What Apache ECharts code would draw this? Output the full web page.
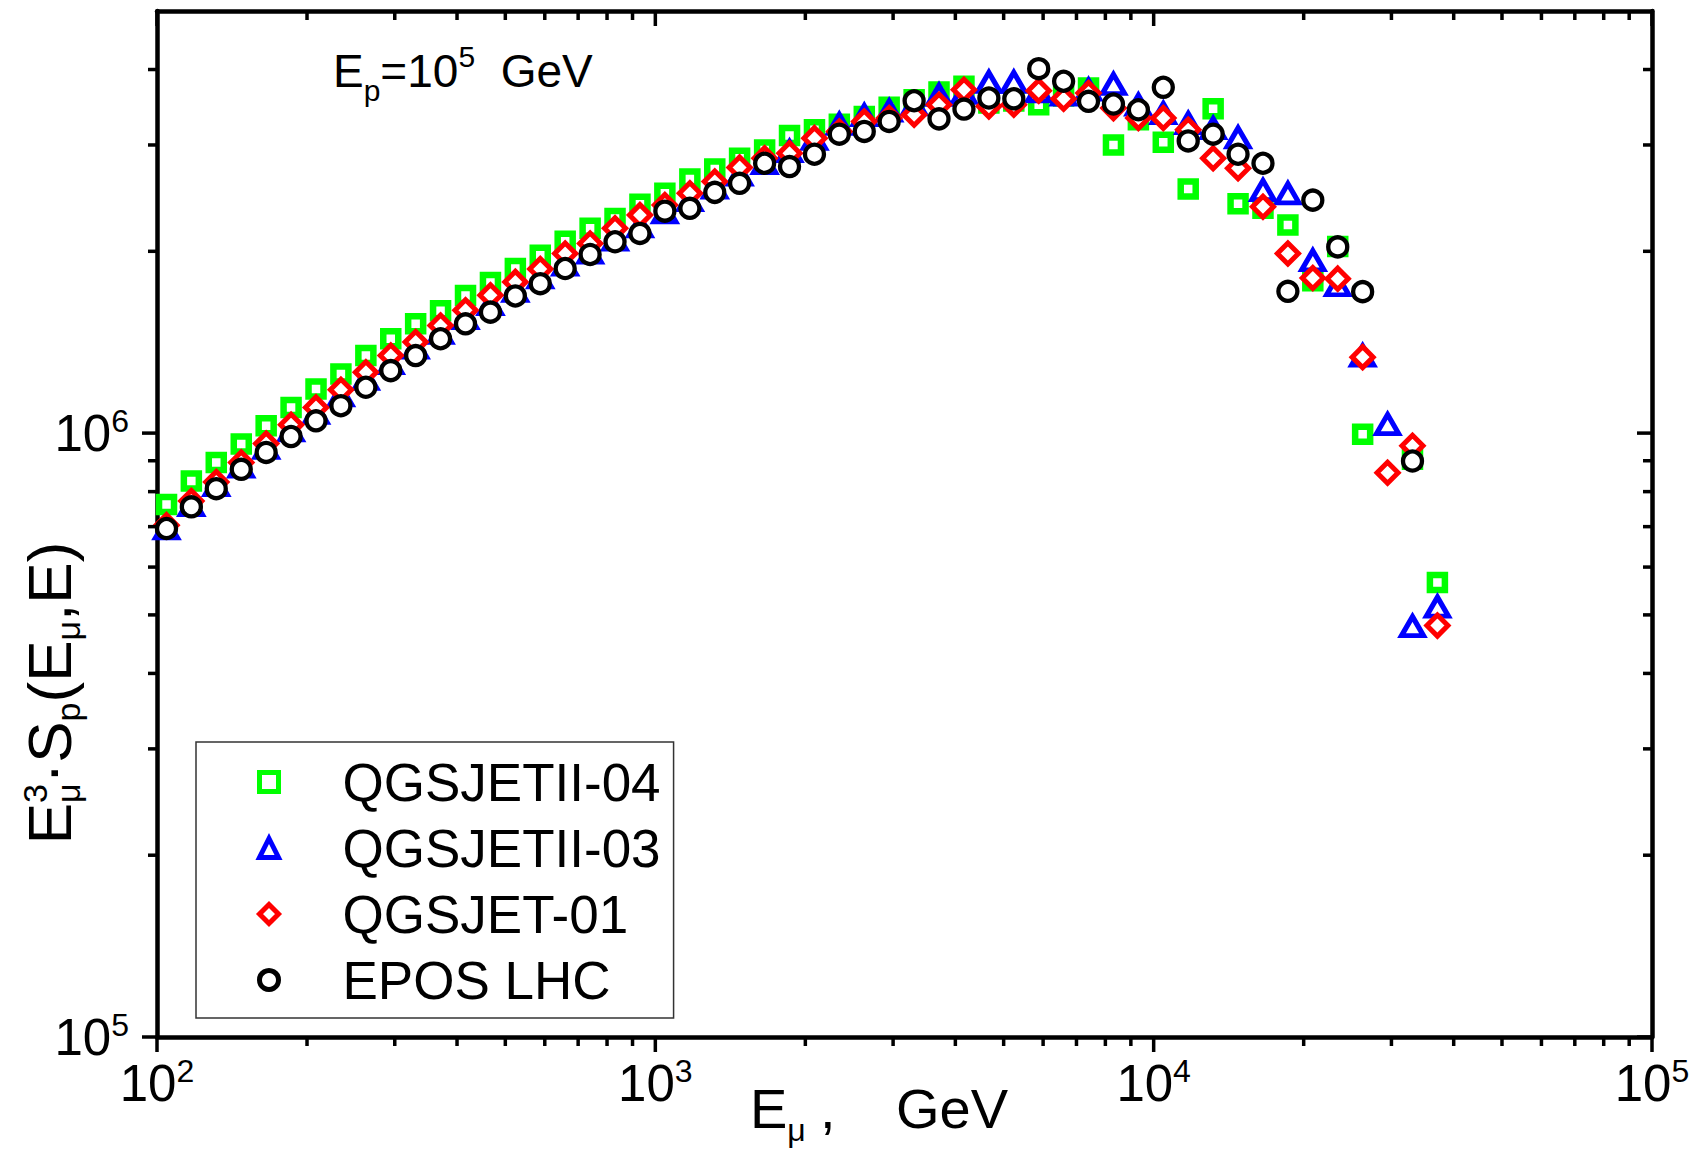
<!DOCTYPE html>
<html>
<head>
<meta charset="utf-8">
<title>Muon spectrum, Ep = 1e5 GeV</title>
<script src="https://cdn.jsdelivr.net/npm/echarts@6.0.0/dist/echarts.min.js"></script>
<style>
  html, body { margin: 0; padding: 0; background: #fff; }
  #chart { width: 1696px; height: 1155px; }
</style>
</head>
<body>
<div id="chart"></div>
<script>
// muon energy of each bin, GeV
const energies = [104.5, 117.2, 131.5, 147.6, 165.6, 185.8, 208.5, 233.9, 262.5, 294.5,
  330.4, 370.7, 416.0, 466.8, 523.7, 587.6, 659.3, 739.8, 830.1, 931.4,
  1045, 1173, 1316, 1476, 1657, 1859, 2086, 2340, 2626, 2946,
  3306, 3709, 4162, 4670, 5240, 5879, 6596, 7401, 8305, 9318,
  10455, 11731, 13163, 14769, 16571, 18593, 20862, 23408, 26264, 29469,
  33065, 37100];

// E^3 * S_p(E_mu, E) for each hadronic model (null = no point in the plot)
const qgsjet2_04 = [762000, 833000, 894000, 959000, 1028000, 1103000, 1183000, 1253000, 1344000, 1433000,
  1517000, 1595000, 1690000, 1775000, 1873000, 1970000, 2078000, 2183000, 2267000, 2392000,
  2495000, 2635000, 2737000, 2852000, 2944000, 3110000, 3178000, 3248000, 3345000, 3463000,
  3565000, 3671000, 3752000, 3520000, 3547000, 3497000, 3615000, 3728000, 3001000, 3303000,
  3032000, 2536000, 3443000, 2397000, 2356000, 2211000, 1788000, 2037000, 996000, null,
  905000, 566000];
const qgsjet2_03 = [695000, 760000, 820000, 880000, 945000, 1010000, 1080000, 1155000, 1230000, 1305000,
  1385000, 1465000, 1550000, 1635000, 1720000, 1810000, 1900000, 1990000, 2090000, 2200000,
  2320000, 2430000, 2550000, 2680000, 2800000, 2930000, 3070000, 3250000, 3360000, 3420000,
  3500000, 3630000, 3657000, 3814000, 3814000, 3681000, 3634000, 3704000, 3785000, 3497000,
  3388000, 3261000, 3199000, 3087000, 2526000, 2495000, 1933000, 1757000, 1344000, 1035000,
  479000, 516000];
const qgsjet01 = [704000, 772000, 830000, 894000, 961000, 1032000, 1103000, 1180000, 1261000, 1344000,
  1415000, 1507000, 1597000, 1691000, 1780000, 1870000, 1983000, 2061000, 2183000, 2296000,
  2386000, 2495000, 2609000, 2753000, 2852000, 2907000, 3079000, 3159000, 3282000, 3324000,
  3366000, 3497000, 3704000, 3476000, 3497000, 3690000, 3578000, 3657000, 3453000, 3324000,
  3324000, 3178000, 2852000, 2745000, 2371000, 1983000, 1807000, 1802000, 1336000, 860000,
  953000, 480000];
const eposLhc = [695000, 755000, 809000, 871000, 929000, 987000, 1048000, 1110000, 1191000, 1269000,
  1344000, 1433000, 1517000, 1586000, 1687000, 1768000, 1873000, 1976000, 2074000, 2141000,
  2331000, 2356000, 2504000, 2592000, 2798000, 2763000, 2896000, 3126000, 3159000, 3282000,
  3551000, 3314000, 3440000, 3588000, 3578000, 4013000, 3825000, 3543000, 3507000, 3431000,
  3738000, 3047000, 3126000, 2896000, 2798000, 1717000, 2431000, 2034000, 1715000, null,
  899000, null];

const seriesNames = ['QGSJETII-04', 'QGSJETII-03', 'QGSJET-01', 'EPOS LHC'];

// tick marks of the log axes
const xMajorTicks = [100, 1000, 10000, 100000];
const xMinorTicks = [200, 300, 400, 500, 600, 700, 800, 900,
  2000, 3000, 4000, 5000, 6000, 7000, 8000, 9000,
  20000, 30000, 40000, 50000, 60000, 70000, 80000, 90000];
const yMajorTicks = [100000, 1000000];
const yMinorTicks = [200000, 300000, 400000, 500000, 600000, 700000, 800000, 900000,
  2000000, 3000000, 4000000];

const FONT = '"Liberation Sans", Arial, sans-serif';
const X_MIN = 100, X_MAX = 100000, Y_MIN = 100000, Y_MAX = 5000000;

const chart = echarts.init(document.getElementById('chart'), null, { renderer: 'svg' });

const toPoints = ys => energies.map((e, i) => [e, ys[i]]).filter(p => p[1] != null);

// label like 10^3 with the exponent raised
const powerLabel = v => {
  const e = Math.round(Math.log10(v));
  if (Math.abs(Math.pow(10, e) - v) / v > 1e-6) return '';
  return '{b|10}{s|' + e + '}';
};
const labelRich = {
  b: { fontSize: 51, fontFamily: FONT, color: '#000', lineHeight: 56 },
  s: { fontSize: 32, fontFamily: FONT, color: '#000', lineHeight: 30, verticalAlign: 'top' }
};

// ticks drawn on both sides of the frame (outer ones on bottom/left, inner on top/right)
function tickSeries(dim, values, len) {
  return {
    type: 'custom',
    coordinateSystem: 'cartesian2d',
    silent: true,
    z: 5,
    data: values.map(v => dim === 'x' ? [v, Y_MIN] : [X_MIN, v]),
    renderItem: (params, api) => {
      const cs = params.coordSys;
      const p = api.coord([api.value(0), api.value(1)]);
      const st = { stroke: '#000', lineWidth: 3.5 };
      if (dim === 'x') {
        const yb = cs.y + cs.height, yt = cs.y;
        return { type: 'group', children: [
          { type: 'line', shape: { x1: p[0], y1: yb, x2: p[0], y2: yb + len }, style: st },
          { type: 'line', shape: { x1: p[0], y1: yt, x2: p[0], y2: yt + len }, style: st }
        ] };
      }
      const xl = cs.x, xr = cs.x + cs.width;
      return { type: 'group', children: [
        { type: 'line', shape: { x1: xl - len, y1: p[1], x2: xl, y2: p[1] }, style: st },
        { type: 'line', shape: { x1: xr - len, y1: p[1], x2: xr, y2: p[1] }, style: st }
      ] };
    }
  };
}

// sequence of text pieces (sub/superscripts) on one baseline
const measureCtx = document.createElement('canvas').getContext('2d');
const textWidth = (t, size) => { measureCtx.font = size + 'px ' + FONT; return measureCtx.measureText(t).width; };
function textRun(x0, base, parts) {
  const els = [];
  let x = x0, stackW = 0;
  parts.forEach(([t, size, shift, stack]) => {
    const w = textWidth(t, size);
    els.push({
      type: 'text', x: x, y: base + shift - 0.35 * size,
      style: { text: t, font: size + 'px ' + FONT, fill: '#000', align: 'left', verticalAlign: 'middle' }
    });
    if (stack) { stackW = w; } else { x += Math.max(w, stackW); stackW = 0; }
  });
  return { els: els, width: x - x0 };
}

// E_mu^3 · S_p(E_mu, E): the 3 and the mu sit one above the other
const yTitleParts = [
  ['E', 62, 0], ['3', 34, -24, true], ['μ', 34, 9],
  ['·S', 62, 0], ['p', 34, 9], ['(E', 62, 0], ['μ', 34, 9], [',E)', 62, 0]
];
const yTitleW = textRun(0, 0, yTitleParts).width;
const yTitle = textRun(-yTitleW / 2, 0, yTitleParts).els;

const xTitle = textRun(750, 1128, [['E', 56, 0], ['μ', 32, 13]]).els.concat([
  { type: 'text', x: 820, y: 1128 - 0.35 * 56, style: { text: ',', font: '56px ' + FONT, fill: '#000', verticalAlign: 'middle' } },
  { type: 'text', x: 896, y: 1128 - 0.35 * 56, style: { text: 'GeV', font: '56px ' + FONT, fill: '#000', verticalAlign: 'middle' } }
]);

const note = textRun(333, 87, [['E', 46, 0], ['p', 30, 14], ['=10', 46, 0], ['5', 30, -20], ['  GeV', 46, 0]]).els;

const makeScatter = (name, ys, symbol, size, color, lw) => ({
  name: name,
  type: 'scatter',
  data: toPoints(ys),
  symbol: symbol,
  symbolSize: size,
  itemStyle: { color: '#fff', borderColor: color, borderWidth: lw, opacity: 1 },
  z: 3
});

const frameAxis = (extra) => Object.assign({
  type: 'log',
  logBase: 10,
  axisLine: { show: true, onZero: false, lineStyle: { color: '#000', width: 4.5 } },
  axisTick: { show: false },
  splitLine: { show: false },
  minorTick: { show: false },
  axisLabel: { show: false }
}, extra);

const option = {
  animation: false,
  backgroundColor: '#fff',
  grid: { left: 157, right: 44, top: 11, bottom: 118, containLabel: false },
  xAxis: [
    frameAxis({ min: X_MIN, max: X_MAX, position: 'bottom',
      axisLabel: { show: true, margin: 18, formatter: powerLabel, rich: labelRich, showMinLabel: true, showMaxLabel: true } }),
    frameAxis({ min: X_MIN, max: X_MAX, position: 'top' })
  ],
  yAxis: [
    frameAxis({ min: Y_MIN, max: Y_MAX, position: 'left',
      axisLabel: { show: true, margin: 28, formatter: powerLabel, rich: labelRich, showMinLabel: true } }),
    frameAxis({ min: Y_MIN, max: Y_MAX, position: 'right' })
  ],
  legend: {
    orient: 'vertical',
    left: 196, top: 742,
    padding: [12, 13, 10, 61],
    itemWidth: 19, itemHeight: 19, itemGap: 10,
    borderColor: '#333', borderWidth: 1.5, borderRadius: 0,
    backgroundColor: '#fff',
    selectedMode: false,
    itemStyle: { borderWidth: 5 },
    formatter: name => '{gap| }' + name,
    textStyle: { fontFamily: FONT, fontSize: 53, color: '#000', lineHeight: 56, rich: { gap: { width: 59 } } },
    data: seriesNames
  },
  graphic: [
    { type: 'group', x: 71, y: 693, rotation: Math.PI / 2, children: yTitle },
    { type: 'group', children: xTitle },
    { type: 'group', children: note }
  ],
  series: [
    makeScatter(seriesNames[0], qgsjet2_04, 'rect', 15, '#00ff00', 6.5),
    makeScatter(seriesNames[1], qgsjet2_03, 'triangle', [22, 19], '#0000ff', 5),
    makeScatter(seriesNames[2], qgsjet01, 'diamond', 21, '#ff0000', 5),
    makeScatter(seriesNames[3], eposLhc, 'circle', 19, '#000000', 4.3),
    tickSeries('x', xMajorTicks, 15),
    tickSeries('x', xMinorTicks, 9),
    tickSeries('y', yMajorTicks, 15),
    tickSeries('y', yMinorTicks, 9)
  ]
};

chart.setOption(option);
</script>
</body>
</html>
